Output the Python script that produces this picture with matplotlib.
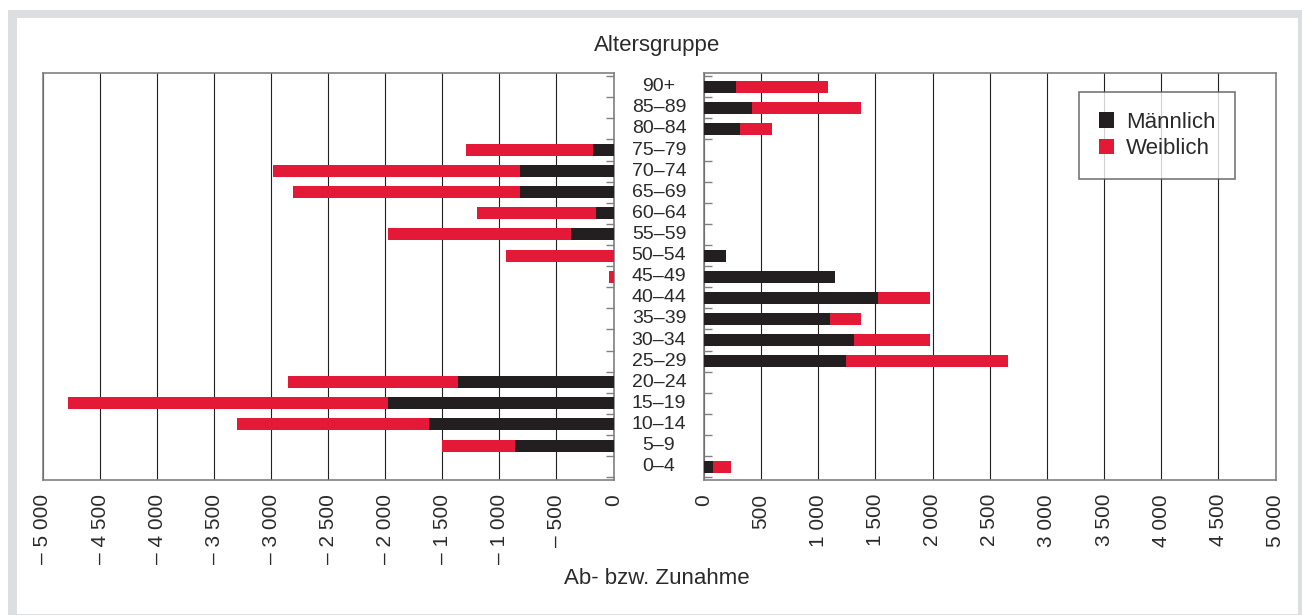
import numpy as np
import matplotlib.pyplot as plt
import matplotlib.transforms as mtransforms
from matplotlib.patches import Rectangle, Patch

plt.rcParams['font.family'] = ['Liberation Sans', 'DejaVu Sans']

# age groups, bottom to top
groups = ['0–4', '5–9', '10–14', '15–19', '20–24', '25–29', '30–34', '35–39',
          '40–44', '45–49', '50–54', '55–59', '60–64', '65–69', '70–74',
          '75–79', '80–84', '85–89', '90+']
maennlich = [80, -860, -1620, -1980, -1360, 1245, 1310, 1100, 1520, 1150,
             195, -375, -150, -820, -820, -180, 315, 420, 280]
weiblich = [155, -640, -1680, -2800, -1490, 1415, 670, 275, 460, -40,
            -940, -1605, -1045, -1990, -2160, -1115, 280, 955, 805]

ticks_left = [-5000, -4500, -4000, -3500, -3000, -2500, -2000, -1500, -1000, -500, 0]
labels_left = ['– 5 000', '– 4 500', '– 4 000', '– 3 500', '– 3 000', '– 2 500',
               '– 2 000', '– 1 500', '– 1 000', '– 500', '0']
ticks_right = [0, 500, 1000, 1500, 2000, 2500, 3000, 3500, 4000, 4500, 5000]
labels_right = ['0', '500', '1 000', '1 500', '2 000', '2 500', '3 000',
                '3 500', '4 000', '4 500', '5 000']

black = '#231f20'
red = '#e31937'
grey = '#808080'
txt = '#2a2a2a'
fs = 16

W, H = 1302, 615
fig = plt.figure(figsize=(W / 100, H / 100), dpi=100)

# grey frame around the chart
fig.patches.append(Rectangle((8 / W, 0), 1 - 8 / W, 1 - 10 / H, transform=fig.transFigure,
                             facecolor='#dddedf', edgecolor='none', zorder=-10))
fig.patches.append(Rectangle((17 / W, 1 / H), (1298 - 17) / W, (614 - 18) / H,
                             transform=fig.transFigure, facecolor='white',
                             edgecolor='none', zorder=-9))

bottom = 1 - 480 / H
height = (480 - 73.3) / H
axL = fig.add_axes([43 / W, bottom, 570.5 / W, height])
axR = fig.add_axes([704 / W, bottom, 571.5 / W, height])

m = np.array(maennlich, dtype=float)
f = np.array(weiblich, dtype=float)
y = np.arange(len(groups))
bh = 0.57

m_neg = np.where(m < 0, m, 0)
f_neg = np.where(f < 0, f, 0)
m_pos = np.where(m > 0, m, 0)
f_pos = np.where(f > 0, f, 0)

axL.barh(y, m_neg, height=bh, color=black, lw=0, zorder=3)
axL.barh(y, f_neg, left=m_neg, height=bh, color=red, lw=0, zorder=3)
axR.barh(y, m_pos, height=bh, color=black, lw=0, zorder=3)
axR.barh(y, f_pos, left=m_pos, height=bh, color=red, lw=0, zorder=3)

for ax, ticks, labels in [(axL, ticks_left, labels_left), (axR, ticks_right, labels_right)]:
    ax.set_xlim(ticks[0], ticks[-1])
    ax.set_ylim(-0.63, len(groups) - 1 + 0.635)
    ax.set_xticks(ticks)
    ax.set_xticklabels(labels, rotation=90, fontsize=15, color=txt)
    ax.tick_params(axis='x', length=0, pad=10)
    ax.grid(axis='x', color=black, lw=0.8, zorder=0)
    ax.set_axisbelow(True)
    ax.set_yticks(np.arange(-0.5, len(groups) - 0.4, 1))
    ax.set_yticklabels([])
    ax.tick_params(axis='y', direction='in', length=6, color=grey, width=1)
    for s in ax.spines.values():
        s.set_color(grey)
        s.set_linewidth(1.2)

axL.yaxis.tick_right()

# age group labels in the middle
trans = mtransforms.blended_transform_factory(fig.transFigure, axL.transData)
for yi, g in zip(y, groups):
    fig.text(659 / W, yi, g, transform=trans, ha='center', va='center',
             fontsize=14, color=txt)

fig.text(657 / W, 1 - 45 / H, 'Altersgruppe', ha='center', va='center',
         fontsize=fs, color=txt)
fig.text(657 / W, 1 - 578 / H, 'Ab- bzw. Zunahme', ha='center', va='center',
         fontsize=fs, color=txt)

handles = [Patch(facecolor=black, edgecolor='none'), Patch(facecolor=red, edgecolor='none')]
leg = axR.legend(handles, ['Männlich', 'Weiblich'], loc='upper left',
                 bbox_to_anchor=(1078.6 / W, 1 - 91.7 / H), bbox_transform=fig.transFigure,
                 borderaxespad=0, fontsize=fs, frameon=True, fancybox=False,
                 handlelength=0.68, handleheight=0.68, handletextpad=0.55,
                 labelspacing=0.25, borderpad=0.9)
leg.get_frame().set_edgecolor('#555555')
leg.get_frame().set_linewidth(1.2)
for t in leg.get_texts():
    t.set_color(txt)

fig.savefig('out.png', dpi=100)
